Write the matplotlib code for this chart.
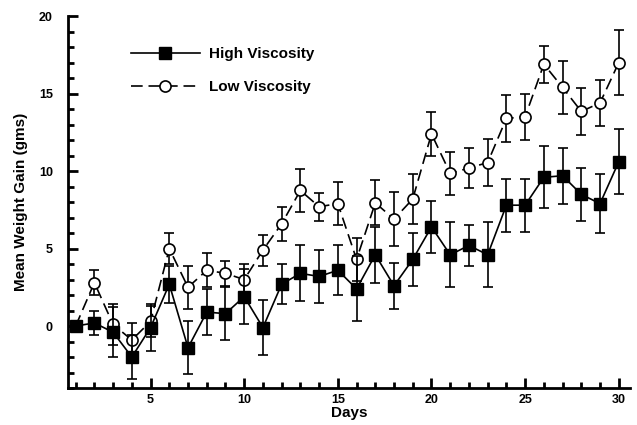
import matplotlib
matplotlib.use('Agg')
import matplotlib.pyplot as plt
from matplotlib.ticker import MultipleLocator
from matplotlib.lines import Line2D

plt.rcParams['font.family'] = ['Liberation Sans', 'DejaVu Sans']
plt.rcParams['font.weight'] = 'bold'

days = list(range(1, 31))

high_mean = [0.0, 0.2, -0.4, -2.0, -0.1, 2.7, -1.4, 0.9, 0.8, 1.9,
             -0.1, 2.7, 3.4, 3.2, 3.6, 2.4, 4.6, 2.6, 4.3, 6.4,
             4.6, 5.2, 4.6, 7.8, 7.8, 9.6, 9.7, 8.5, 7.9, 10.6]
high_err = [0.0, 0.8, 1.6, 1.4, 1.5, 1.2, 1.7, 1.5, 1.7, 1.8,
            1.8, 1.3, 1.8, 1.7, 1.6, 2.1, 1.8, 1.5, 1.7, 1.7,
            2.1, 1.3, 2.1, 1.7, 1.7, 2.0, 1.8, 1.7, 1.9, 2.1]

low_mean = [0.0, 2.8, 0.1, -0.9, 0.3, 5.0, 2.5, 3.6, 3.4, 3.0,
            4.9, 6.6, 8.75, 7.7, 7.9, 4.3, 7.95, 6.9, 8.2, 12.4,
            9.85, 10.2, 10.55, 13.4, 13.5, 16.9, 15.4, 13.85, 14.4, 17.0]
low_err = [0.0, 0.8, 1.3, 1.1, 1.0, 1.0, 1.4, 1.1, 0.8, 1.0,
           1.0, 1.1, 1.4, 0.9, 1.4, 1.4, 1.45, 1.75, 1.6, 1.4,
           1.4, 1.3, 1.5, 1.5, 1.5, 1.2, 1.7, 1.5, 1.5, 2.1]

fig = plt.figure(figsize=(6.37, 4.25), dpi=100)
ax = fig.add_axes([0.107, 0.087, 0.882, 0.875])

low_style = dict(color='black', lw=1.2, dashes=(7, 3.5), marker='o', markersize=8,
                 mfc='white', mec='black', mew=1.2)
high_style = dict(color='black', lw=1.2, marker='s', markersize=8,
                  mfc='black', mec='black')

ax.errorbar(days, low_mean, yerr=low_err, ecolor='black', elinewidth=1.2,
            capsize=3.5, capthick=1.2, zorder=2, **low_style)
ax.errorbar(days, high_mean, yerr=high_err, ecolor='black', elinewidth=1.2,
            capsize=3.5, capthick=1.2, zorder=3, **high_style)

ax.set_xlim(0.6, 30.6)
ax.set_ylim(-4, 20)
ax.xaxis.set_major_locator(MultipleLocator(5))
ax.xaxis.set_minor_locator(MultipleLocator(1))
ax.set_yticks([0, 5, 10, 15, 20])
ax.yaxis.set_minor_locator(MultipleLocator(1))

for s in ['top', 'right']:
    ax.spines[s].set_visible(False)
for s in ['left', 'bottom']:
    ax.spines[s].set_linewidth(2)

ax.tick_params(which='major', direction='in', length=7, width=2, labelsize=9)
ax.tick_params(which='minor', direction='in', length=4, width=2)
ax.tick_params(axis='x', which='major', pad=4)
ax.tick_params(axis='y', which='major', pad=11)
for lab in ax.get_xticklabels() + ax.get_yticklabels():
    lab.set_fontweight('bold')

ax.set_xlabel('Days', fontsize=11, fontweight='bold', labelpad=0)
ax.set_ylabel('Mean Weight Gain (gms)', fontsize=11, fontweight='bold', labelpad=8)

handles = [Line2D([], [], **high_style), Line2D([], [], **low_style)]
ax.legend(handles, ['High Viscosity', 'Low Viscosity'], loc='upper left',
          bbox_to_anchor=(0.184, 0.922), bbox_transform=fig.transFigure,
          frameon=False, handlelength=4.5, handletextpad=0.6,
          labelspacing=1.25, prop={'weight': 'bold', 'size': 11})

plt.savefig('out.png', dpi=100)
